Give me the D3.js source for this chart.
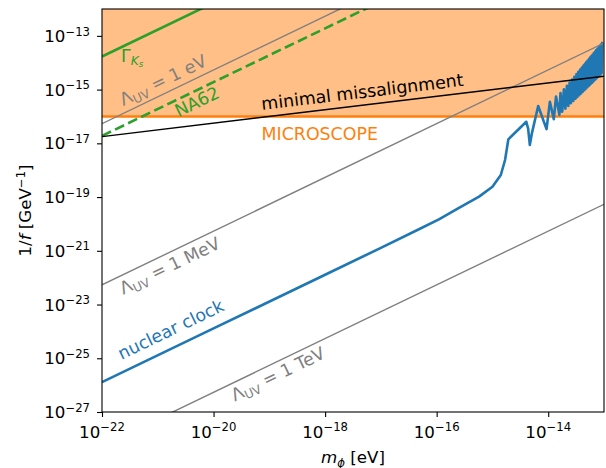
<!DOCTYPE html>
<html><head><meta charset="utf-8">
<script src="https://cdn.jsdelivr.net/npm/d3@7"></script>
<style>body{margin:0;background:#fff}text{font-family:"DejaVu Sans",sans-serif}</style>
</head><body><svg id="c" width="606" height="468"></svg>
<script>
// ---- data ----
const xDomain = [1e-22, 1e-13];
const yDomain = [1e-27, 1e-12];
const xTicks = [1e-22, 1e-20, 1e-18, 1e-16, 1e-14];
const xTickExp = ["−22", "−20", "−18", "−16", "−14"];
const yTicks = [1e-27, 1e-25, 1e-23, 1e-21, 1e-19, 1e-17, 1e-15, 1e-13];
const yTickExp = ["−27", "−25", "−23", "−21", "−19", "−17", "−15", "−13"];

// Lambda_UV lines (1/f at m = 1e-22 eV and m = 1e-13 eV)
const lambdaNames = ["1 eV", "1 MeV", "1 TeV"];
const lambdaLeft = [5.4e-17, 5.4e-23, 5.4e-29];
const lambdaRight = [5.4e-8, 5.4e-14, 5.4e-20];

const gammaM = [1e-22, 1e-13];
const gammaF = [1.7e-14, 1.7e-5];
const na62M = [1e-22, 1e-13];
const na62F = [1.9e-17, 1.9e-8];
const minimalM = [1e-22, 1e-13];
const minimalF = [1.78e-17, 3.16e-15];
const microscopeF = 1e-16;

// nuclear clock curve (log10 values)
const nuclearLogM = [-22, -20, -18, -17, -16.3, -15.96, -15.6, -15.24, -15.00, -14.85, -14.774, -14.715, -14.393, -14.36, -14.33, -14.29, -14.18,
  -14.03, -13.97, -13.90, -13.86, -13.80, -13.78,
  -13.749, -13.719, -13.692, -13.665, -13.640, -13.617, -13.594, -13.572, -13.551, -13.531, -13.511, -13.493, -13.476, -13.460,
  -13.443, -13.427, -13.411, -13.397, -13.383, -13.368, -13.354, -13.341, -13.329, -13.316, -13.304, -13.291, -13.279, -13.268,
  -13.257, -13.247, -13.236, -13.225, -13.214, -13.204, -13.193, -13.182, -13.172, -13.161, -13.150, -13.139, -13.129, -13.118,
  -13.107, -13.096, -13.086, -13.075, -13.064, -13.053, -13.043, -13.032, -13.021];
const nuclearLogF = [-25.89, -23.89, -21.89, -20.89, -20.18, -19.83, -19.40, -18.985, -18.613, -18.178, -17.621, -16.851, -16.197, -16.45, -17.06, -16.60, -15.61,
  -16.47, -15.45, -16.10, -15.26, -15.94, -15.13,
  -15.825, -14.993, -15.710, -14.857, -15.604, -14.735, -15.509, -14.623, -15.423, -14.519, -15.343, -14.424, -15.271, -14.339,
  -15.206, -14.258, -15.140, -14.181, -15.082, -14.109, -15.024, -14.041, -14.974, -13.978, -14.923, -13.915, -14.872, -13.856,
  -14.829, -13.802, -14.785, -13.748, -14.742, -13.694, -14.698, -13.640, -14.655, -13.586, -14.611, -13.532, -14.568, -13.477,
  -14.524, -13.423, -14.481, -13.369, -14.437, -13.315, -14.394, -13.261, -13.234];

// label anchors (data coordinates: log10 m, log10 f)
const labelAnchors = {
  eV: [-21.62, -15.61], MeV: [-21.62, -22.64], TeV: [-19.62, -26.61],
  nuclear: [-21.65, -25.06], na62: [-20.63, -16.03], gamma: [-21.66, -13.97],
  minimal: [-19.13, -15.76], microscope: [-19.14, -16.88]
};

// ---- layout ----
const L = 102, R = 604, T = 9, B = 412;
const FS = 16.67, LFS = 17.4;
const svg = d3.select("#c");
const x = d3.scaleLog().domain(xDomain).range([L, R]);
const y = d3.scaleLog().domain(yDomain).range([B, T]);
const p10 = v => Math.pow(10, v);

svg.append("defs").append("clipPath").attr("id", "clip")
  .append("rect").attr("x", L).attr("y", T).attr("width", R - L).attr("height", B - T);
const g = svg.append("g").attr("clip-path", "url(#clip)");

// excluded region
g.append("rect").attr("x", L).attr("y", T).attr("width", R - L)
  .attr("height", y(microscopeF) - T).attr("fill", "#ffbf86");
g.append("line").attr("x1", L).attr("x2", R).attr("y1", y(microscopeF)).attr("y2", y(microscopeF))
  .attr("stroke", "#ff7f0e").attr("stroke-width", 2.6);

const line = d3.line().x(d => x(d[0])).y(d => y(d[1]));

// nuclear clock
g.append("path").datum(nuclearLogM.map((m, i) => [p10(m), p10(nuclearLogF[i])]))
  .attr("d", line.curve(d3.curveLinear)).attr("fill", "none").attr("stroke", "#1f77b4").attr("stroke-width", 2.6)
  .attr("stroke-linejoin", "round");

// Lambda lines
lambdaNames.forEach((n, i) => {
  g.append("path").datum([[xDomain[0], lambdaLeft[i]], [xDomain[1], lambdaRight[i]]])
    .attr("d", line).attr("fill", "none").attr("stroke", "#808080").attr("stroke-width", 1.4);
});
// Gamma_Ks
g.append("path").datum(gammaM.map((m, i) => [m, gammaF[i]])).attr("d", line)
  .attr("fill", "none").attr("stroke", "#2ca02c").attr("stroke-width", 2.6);
// NA62
g.append("path").datum(na62M.map((m, i) => [m, na62F[i]])).attr("d", line)
  .attr("fill", "none").attr("stroke", "#2ca02c").attr("stroke-width", 2.6).attr("stroke-dasharray", "10,4.5");
// minimal misalignment
g.append("path").datum(minimalM.map((m, i) => [m, minimalF[i]])).attr("d", line)
  .attr("fill", "none").attr("stroke", "#000").attr("stroke-width", 1.4);

// ---- labels ----
const slopeAngle = -Math.atan((y(1e-20) - y(1e-19)) / (x(1e-19) - x(1e-20))) * 180 / Math.PI;
const minAngle = -Math.atan((y(minimalF[0]) - y(minimalF[1])) / (x(minimalM[1]) - x(minimalM[0]))) * 180 / Math.PI;
function lab(key, angle, color) {
  const a = labelAnchors[key];
  return svg.append("text")
    .attr("transform", `translate(${x(p10(a[0]))},${y(p10(a[1]))}) rotate(${angle})`)
    .attr("fill", color).attr("font-size", LFS);
}
function lambdaLabel(key, unit) {
  const t = lab(key, slopeAngle, "#808080");
  t.append("tspan").text("Λ");
  t.append("tspan").attr("font-size", LFS * 0.7).attr("dy", 3.5).text("UV");
  t.append("tspan").attr("dy", -3.5).text(" = 1 " + unit);
}
lambdaLabel("eV", "eV");
lambdaLabel("MeV", "MeV");
lambdaLabel("TeV", "TeV");
lab("nuclear", slopeAngle, "#1f77b4").text("nuclear clock");
lab("na62", slopeAngle, "#2ca02c").text("NA62");
{
  const t = lab("gamma", 0, "#2ca02c");
  t.append("tspan").text("Γ");
  t.append("tspan").attr("font-size", LFS * 0.7).attr("font-style", "italic").attr("dy", 3.5).text("K");
  t.append("tspan").attr("font-size", LFS * 0.5).attr("font-style", "italic").attr("dy", 2).text("s");
}
lab("minimal", minAngle, "#000").text("minimal missalignment");
lab("microscope", 0, "#ff7f0e").text("MICROSCOPE");

// ---- axes ----
const ax = svg.append("g").attr("transform", `translate(0,${B})`)
  .call(d3.axisBottom(x).tickValues(xTicks).tickSize(5).tickFormat(""));
const ay = svg.append("g").attr("transform", `translate(${L},0)`)
  .call(d3.axisLeft(y).tickValues(yTicks).tickSize(5).tickFormat(""));
[ax, ay].forEach(a => { a.select(".domain").remove(); a.selectAll("line").attr("stroke-width", 1.1); });

xTicks.forEach((v, i) => {
  const t = svg.append("text").attr("x", x(v)).attr("y", B + 25.7).attr("text-anchor", "middle").attr("font-size", FS);
  t.append("tspan").text("10");
  t.append("tspan").attr("font-size", FS * 0.7).attr("dy", -6.3).text(xTickExp[i]);
});
yTicks.forEach((v, i) => {
  const t = svg.append("text").attr("x", L - 12).attr("y", y(v) + 6).attr("text-anchor", "end").attr("font-size", FS);
  t.append("tspan").text("10");
  t.append("tspan").attr("font-size", FS * 0.7).attr("dy", -6.3).text(yTickExp[i]);
});

svg.append("rect").attr("x", L).attr("y", T).attr("width", R - L).attr("height", B - T)
  .attr("fill", "none").attr("stroke", "#000").attr("stroke-width", 1.1);

// axis labels
{
  const t = svg.append("text").attr("x", (L + R) / 2).attr("y", 463).attr("text-anchor", "middle").attr("font-size", FS);
  t.append("tspan").attr("font-style", "italic").text("m");
  t.append("tspan").attr("font-style", "italic").attr("font-size", FS * 0.7).attr("dy", 3.5).text("ϕ");
  t.append("tspan").attr("dy", -3.5).text(" [eV]");
}
{
  const t = svg.append("text").attr("transform", `translate(31,${(T + B) / 2}) rotate(-90)`)
    .attr("text-anchor", "middle").attr("font-size", FS);
  t.append("tspan").text("1/");
  t.append("tspan").attr("font-style", "italic").text("f");
  t.append("tspan").text(" [GeV");
  t.append("tspan").attr("font-size", FS * 0.7).attr("dy", -6.3).text("−1");
  t.append("tspan").attr("dy", 6.3).text("]");
}
</script></body></html>
